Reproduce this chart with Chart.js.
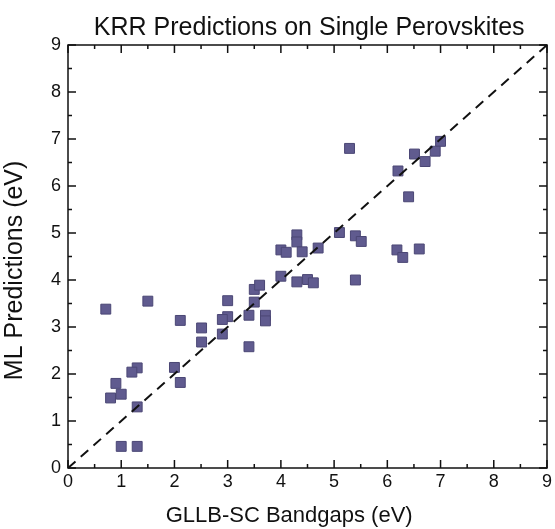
<!DOCTYPE html>
<html>
<head>
<meta charset="utf-8">
<script src="https://cdn.jsdelivr.net/npm/chart.js@4/dist/chart.umd.min.js"></script>
<style>
  html, body { margin: 0; padding: 0; background: #fff; }
  #wrap { width: 555px; height: 529px; position: relative; }
</style>
</head>
<body>
<div id="wrap"><canvas id="chart"></canvas></div>
<script>
// GLLB-SC bandgaps (x) vs. KRR predictions (y), both in eV
const gllbBandgaps = [
  0.71, 1.50, 2.11, 2.51, 2.51, 3.00, 3.00, 2.90, 2.90, 3.40,
  3.40, 3.50, 1.30, 1.20, 0.90, 0.80, 1.00, 1.30, 2.00, 2.11,
  1.00, 1.30, 3.50, 3.60, 3.71, 3.71, 4.00, 4.00, 4.10, 4.30,
  4.30, 4.30, 4.40, 4.50, 4.61, 4.70, 5.10, 5.40, 5.51, 5.40,
  6.18, 5.29, 7.00, 6.90, 6.51, 6.71, 6.20, 6.40, 6.29, 6.60
];
const mlPredictions = [
  3.38, 3.55, 3.14, 2.98, 2.68, 3.56, 3.22, 3.16, 2.85, 3.25,
  2.58, 3.53, 2.13, 2.04, 1.80, 1.49, 1.57, 1.30, 2.14, 1.82,
  0.46, 0.46, 3.80, 3.89, 3.25, 3.13, 4.08, 4.64, 4.59, 4.96,
  4.81, 3.96, 4.60, 4.01, 3.94, 4.68, 5.01, 4.94, 4.82, 4.00,
  4.64, 6.80, 6.95, 6.74, 6.68, 6.52, 6.32, 5.77, 4.48, 4.66
];
const parityLine = [0, 9];
const tickValues = [0, 1, 2, 3, 4, 5, 6, 7, 8, 9];

const fontFamily = "'Liberation Sans', Arial, sans-serif";

// frame + inward ticks on all four sides
const frameTicks = {
  id: 'frameTicks',
  afterDatasetsDraw(chart) {
    const { ctx, chartArea: a, scales } = chart;
    ctx.save();
    ctx.strokeStyle = '#111';
    ctx.lineWidth = 1.5;
    ctx.strokeRect(a.left, a.top, a.right - a.left, a.bottom - a.top);
    ctx.beginPath();
    for (let v = 0; v <= 9; v += 0.5) {
      const len = Number.isInteger(v) ? 8 : 4;
      const px = scales.x.getPixelForValue(v);
      const py = scales.y.getPixelForValue(v);
      ctx.moveTo(px, a.bottom); ctx.lineTo(px, a.bottom - len);
      ctx.moveTo(px, a.top); ctx.lineTo(px, a.top + len);
      ctx.moveTo(a.left, py); ctx.lineTo(a.left + len, py);
      ctx.moveTo(a.right, py); ctx.lineTo(a.right - len, py);
    }
    ctx.stroke();
    ctx.restore();
  }
};

const ctx = document.getElementById('chart');
new Chart(ctx, {
  data: {
    datasets: [
      {
        type: 'line',
        label: 'y = x',
        data: parityLine.map(v => ({ x: v, y: v })),
        borderColor: '#111',
        borderWidth: 2,
        borderDash: [10, 7],
        pointRadius: 0,
        fill: false
      },
      {
        type: 'scatter',
        label: 'KRR',
        data: gllbBandgaps.map((x, i) => ({ x, y: mlPredictions[i] })),
        pointStyle: 'rect',
        pointRadius: 7,
        backgroundColor: '#605b8f',
        borderColor: '#4b4775',
        borderWidth: 1
      }
    ]
  },
  options: {
    responsive: true,
    maintainAspectRatio: false,
    animation: false,
    layout: { padding: { left: 0, right: 6, top: 0, bottom: 0 } },
    plugins: {
      legend: { display: false },
      tooltip: { enabled: false },
      title: {
        display: true,
        // leading spaces push the title over the plot area, as in the original
        text: '          KRR Predictions on Single Perovskites',
        color: '#111',
        font: { family: fontFamily, size: 25, weight: 'normal' },
        padding: { top: 13, bottom: 2 }
      }
    },
    scales: {
      x: {
        type: 'linear',
        min: 0,
        max: 9,
        afterBuildTicks: s => { s.ticks = tickValues.map(v => ({ value: v })); },
        afterFit: s => { s.height = 61; },
        grid: { display: false, drawTicks: false },
        border: { display: false },
        ticks: {
          color: '#111',
          padding: 3,
          font: { family: fontFamily, size: 18 }
        },
        title: {
          display: true,
          text: 'GLLB-SC Bandgaps (eV)      ',
          color: '#111',
          font: { family: fontFamily, size: 22 },
          padding: { top: 0, bottom: 0 }
        }
      },
      y: {
        type: 'linear',
        min: 0,
        max: 9,
        afterBuildTicks: s => { s.ticks = tickValues.map(v => ({ value: v })); },
        afterFit: s => { s.width = 68; },
        grid: { display: false, drawTicks: false },
        border: { display: false },
        ticks: {
          color: '#111',
          padding: 7,
          font: { family: fontFamily, size: 18 }
        },
        title: {
          display: true,
          text: 'ML Predictions (eV)    ',
          color: '#111',
          font: { family: fontFamily, size: 25 },
          padding: { top: 0, bottom: 2 }
        }
      }
    }
  },
  plugins: [frameTicks]
});
</script>
</body>
</html>
